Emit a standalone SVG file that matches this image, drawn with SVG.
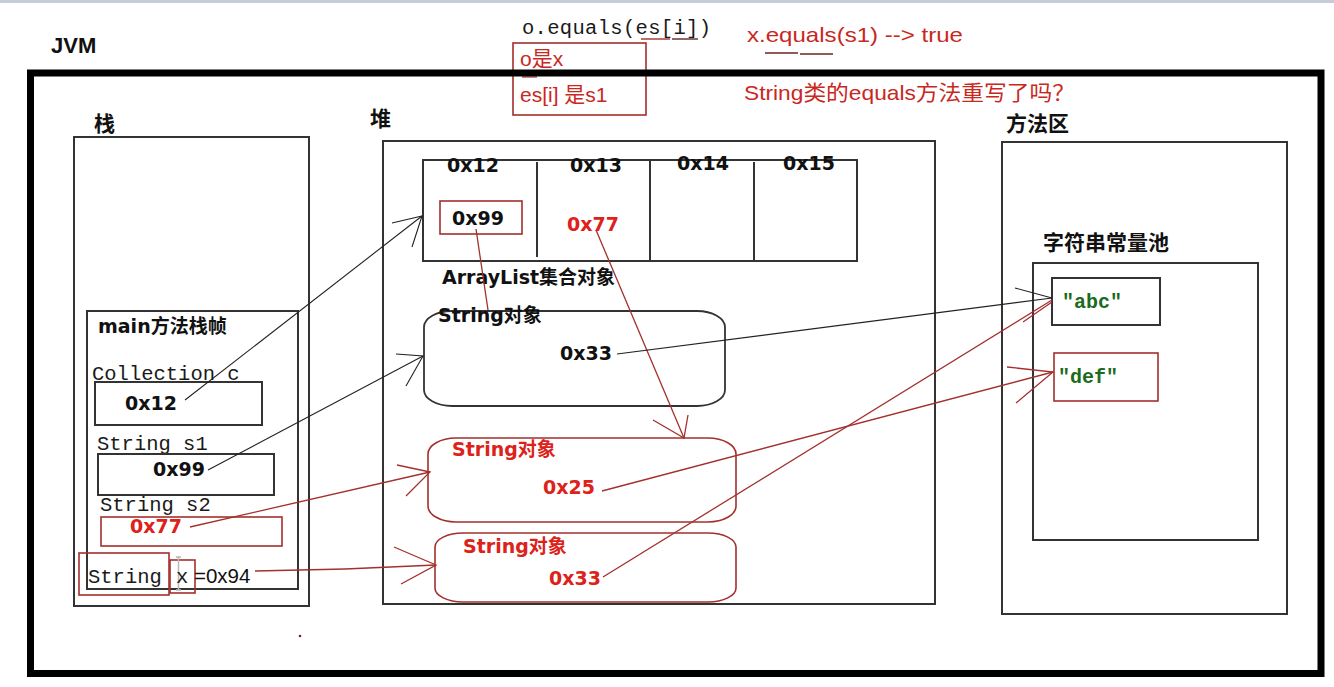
<svg xmlns="http://www.w3.org/2000/svg" width="1334" height="687" viewBox="0 0 1334 687">
  <style>
    .box { fill: none; stroke: #333; stroke-width: 2; }
    .rbox { fill: none; stroke: #a3302c; stroke-width: 1.6; }
    .frame { fill: none; stroke: #000; stroke-width: 7; }
    .head { font-family: "DejaVu Sans", "Noto Sans CJK SC", sans-serif; font-weight: bold; font-size: 21px; fill: #111; }
    .lbl { font-family: "DejaVu Sans", "Noto Sans CJK SC", sans-serif; font-weight: bold; font-size: 19px; fill: #111; }
    .lblr { font-family: "DejaVu Sans", "Noto Sans CJK SC", sans-serif; font-weight: bold; font-size: 19px; fill: #dd2219; }
    .mono { font-family: "Liberation Mono", monospace; font-size: 20.5px; fill: #1a1a1a; }
    .note { font-family: "Liberation Sans", "Noto Sans CJK SC", sans-serif; font-size: 21px; fill: #c9281f; }
    .lit { font-family: "Liberation Mono", monospace; font-weight: bold; font-size: 20px; fill: #1c6b1c; }
    .ln { fill: none; stroke: #222; stroke-width: 1.1; }
    .lnr { fill: none; stroke: #a3302c; stroke-width: 1.3; }
  </style>

  <rect width="1334" height="687" fill="#fff"/>
  <!-- window strip along the top edge -->
  <rect x="0" y="0" width="1334" height="3" fill="#c5cdd9"/>

  <!-- annotations above the JVM frame -->
  <g id="notes">
    <text class="mono" x="522" y="34" fill="#111" textLength="189" lengthAdjust="spacing">o.equals(es[i])</text>
    <line x1="641" y1="39" x2="670" y2="39" stroke="#a3302c" stroke-width="1.4"/>
    <line x1="672" y1="39" x2="698" y2="39" stroke="#5a2a28" stroke-width="1.4"/>
    <rect class="rbox" x="513" y="43" width="133" height="72"/>
    <text class="note" x="520" y="66">o是x</text>
    <line x1="522" y1="77" x2="537" y2="77" stroke="#a3302c" stroke-width="1.2"/>
    <text class="note" x="520" y="102">es[i] 是s1</text>
    <text class="note" x="747" y="42" font-size="22" textLength="216" lengthAdjust="spacingAndGlyphs">x.equals(s1) --&gt; true</text>
    <line x1="765" y1="53" x2="798" y2="53" stroke="#6a2320" stroke-width="1.3"/>
    <line x1="800" y1="54" x2="833" y2="54" stroke="#6a2320" stroke-width="1.3"/>
    <text class="note" x="744" y="100" textLength="331" lengthAdjust="spacingAndGlyphs">String类的equals方法重写了吗？</text>
  </g>

  <!-- JVM frame -->
  <g id="jvm">
    <text x="51" y="53" font-family="Liberation Sans, sans-serif" font-weight="bold" font-size="22" fill="#111">JVM</text>
    <rect class="frame" x="30.5" y="73" width="1290.5" height="600.5"/>
  </g>

  <!-- stack -->
  <g id="stack">
    <text class="head" x="94" y="131">栈</text>
    <rect class="box" x="74" y="137" width="235" height="469"/>
  </g>

  <g id="main-frame">
    <rect class="box" x="87" y="311" width="211" height="278"/>
    <text class="lbl" x="98" y="333" font-size="20">main方法栈帧</text>
  </g>

  <g id="var-c">
    <text class="mono" x="92" y="380">Collection c</text>
    <rect class="box" x="95" y="382" width="167" height="43"/>
    <text class="lbl" x="125" y="410">0x12</text>
  </g>

  <g id="var-s1">
    <text class="mono" x="97" y="450">String s1</text>
    <rect class="box" x="98" y="454" width="176" height="41"/>
    <text class="lbl" x="153" y="476">0x99</text>
  </g>

  <g id="var-s2">
    <text class="mono" x="100" y="511">String s2</text>
    <rect class="rbox" x="101" y="517" width="181" height="29"/>
    <text class="lblr" x="130" y="533">0x77</text>
  </g>

  <g id="var-x">
    <rect class="rbox" x="79" y="553" width="90" height="42"/>
    <rect class="rbox" x="170" y="560" width="25" height="33" stroke-width="1.2"/>
    <text class="mono" x="88" y="583">String</text>
    <path d="M176,557 h5 M178.5,557 v33 M176,590 h5" stroke="#b8b8b8" stroke-width="1.5" fill="none"/>
    <text class="mono" x="176" y="583" fill="#777">x</text>
    <text x="194" y="583" font-family="Liberation Sans, sans-serif" font-size="20.5" fill="#111">=0x94</text>
  </g>

  <!-- heap -->
  <g id="heap">
    <text class="head" x="370" y="126">堆</text>
    <rect class="box" x="383" y="141" width="552" height="463"/>
  </g>

  <g id="arraylist">
    <rect class="box" x="423" y="160" width="434" height="101"/>
    <line x1="537" y1="162" x2="537" y2="257" stroke="#333" stroke-width="2"/>
    <line x1="650" y1="160" x2="650" y2="261" stroke="#333" stroke-width="2"/>
    <line x1="754" y1="162" x2="754" y2="261" stroke="#333" stroke-width="2"/>
    <text class="lbl" x="447" y="172">0x12</text>
    <text class="lbl" x="570" y="172">0x13</text>
    <text class="lbl" x="677" y="170">0x14</text>
    <text class="lbl" x="783" y="170">0x15</text>
    <rect class="rbox" x="440" y="201" width="82" height="33"/>
    <text class="lbl" x="452" y="225">0x99</text>
    <text class="lblr" x="567" y="231">0x77</text>
    <text class="lbl" x="442" y="284">ArrayList集合对象</text>
  </g>

  <g id="string-obj-1">
    <rect x="424" y="311" width="301" height="95" rx="28" ry="16" fill="none" stroke="#333" stroke-width="1.8"/>
    <text class="lbl" x="438" y="322" font-size="20">String对象</text>
    <text class="lbl" x="560" y="360">0x33</text>
  </g>

  <g id="string-obj-2">
    <rect x="428" y="438" width="308" height="84" rx="28" ry="16" fill="none" stroke="#a3302c" stroke-width="1.6"/>
    <text class="lblr" x="452" y="456" font-size="20">String对象</text>
    <text class="lblr" x="543" y="494">0x25</text>
  </g>

  <g id="string-obj-3">
    <rect x="435" y="533" width="301" height="69" rx="28" ry="14" fill="none" stroke="#a3302c" stroke-width="1.6"/>
    <text class="lblr" x="463" y="553" font-size="20">String对象</text>
    <text class="lblr" x="549" y="585">0x33</text>
  </g>

  <!-- method area -->
  <g id="method-area">
    <text class="head" x="1006" y="131">方法区</text>
    <rect class="box" x="1002" y="142" width="285" height="472"/>
  </g>

  <g id="string-pool">
    <text class="head" x="1043" y="250">字符串常量池</text>
    <rect class="box" x="1033" y="263" width="225" height="277"/>
  </g>

  <g id="lit-abc">
    <rect class="box" x="1052" y="278" width="108" height="47"/>
    <text class="lit" x="1062" y="308">"abc"</text>
  </g>

  <g id="lit-def">
    <rect class="rbox" x="1054" y="353" width="104" height="48" stroke-width="1.8"/>
    <text class="lit" x="1058" y="383">"def"</text>
  </g>

  <circle cx="300" cy="636" r="1.3" fill="#8b1a1a"/>

  <!-- references between stack, heap and pool -->
  <g id="connectors">
    <!-- c -> ArrayList -->
    <path class="ln" d="M185,400 L422,216"/>
    <path class="ln" d="M392,223 L422,216 L412,247"/>
    <!-- s1 -> String object 0x99 -->
    <path class="ln" d="M208,470 L423,356"/>
    <path class="ln" d="M396,354 L423,356 L406,386"/>
    <!-- s2 -> String object 0x77 -->
    <path class="lnr" d="M190,527 L430,472"/>
    <path class="lnr" d="M397,465 L430,472 L406,496"/>
    <!-- x -> String object 0x94 -->
    <path class="lnr" d="M255,571 L345,569 L436,565"/>
    <path class="lnr" d="M394,547 L436,565 L401,584"/>
    <!-- element 0x99 -> its object -->
    <path class="lnr" d="M476,229 L488,310"/>
    <!-- element 0x77 -> its object -->
    <path class="lnr" d="M596,230 L684,438"/>
    <path class="lnr" d="M653,420 L684,438 L688,415"/>
    <!-- value pointers into the pool -->
    <path class="ln" d="M617,354 L1052,298"/>
    <path class="ln" d="M1015,288 L1052,298"/>
    <path class="lnr" d="M602,491 L1053,372"/>
    <path class="lnr" d="M1007,367 L1053,372 L1016,403"/>
    <path class="lnr" d="M603,577 L1052,300"/>
    <path class="lnr" d="M1023,322 L1052,302"/>
  </g>
</svg>
